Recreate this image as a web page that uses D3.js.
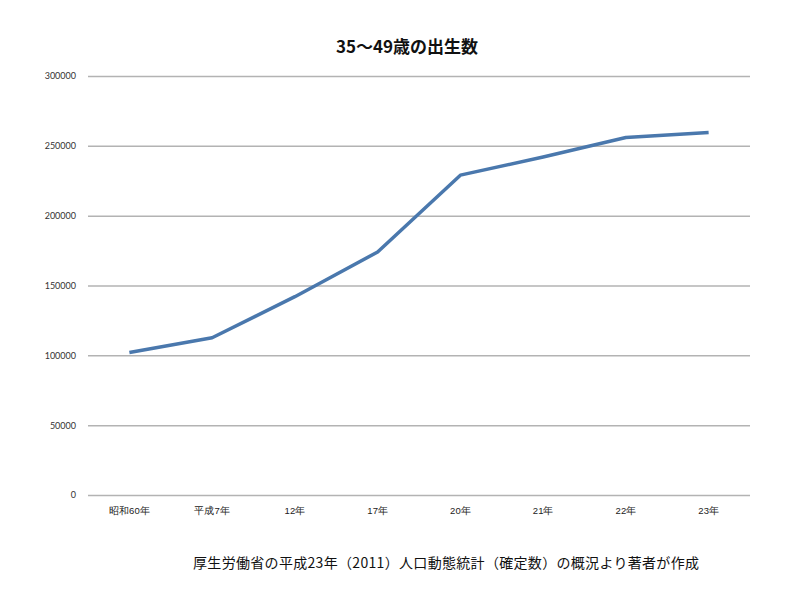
<!DOCTYPE html>
<html>
<head>
<meta charset="utf-8">
<script src="https://cdn.jsdelivr.net/npm/d3@7"></script>
<style>
  body { margin: 0; background: #fff; }
  svg { font-family: "Noto Sans CJK JP", "Noto Sans", sans-serif; }
</style>
</head>
<body>
<div id="chart"></div>
<script>
// data
var years = ["昭和60年", "平成7年", "12年", "17年", "20年", "21年", "22年", "23年"];
var births = [102000, 112600, 142000, 174000, 229000, 242000, 256000, 259500];
var yTicks = [0, 50000, 100000, 150000, 200000, 250000, 300000];

var svgWidth = 800, svgHeight = 600;
var margin = { top: 76, right: 50, bottom: 105, left: 88 };
var width = svgWidth - margin.left - margin.right;
var height = svgHeight - margin.top - margin.bottom;

var svg = d3.select("#chart").append("svg")
    .attr("width", svgWidth)
    .attr("height", svgHeight);

var chart = svg.append("g")
    .attr("transform", `translate(${margin.left}, ${margin.top})`);

var x = d3.scaleBand().domain(years).range([0, width]);
var y = d3.scaleLinear().domain([0, 300000]).range([height, 0]);

// gridlines + y labels
var leftAxis = d3.axisLeft(y).tickValues(yTicks).tickSize(-width).tickPadding(12).tickFormat(d3.format("d"));
var gy = chart.append("g").call(leftAxis);
gy.select(".domain").remove();
gy.selectAll(".tick line").attr("stroke", "#b3b3b3").attr("stroke-width", 1.5);
gy.selectAll(".tick text").attr("fill", "#333").style("font-size", "9px").style("font-family", "Lato, 'Noto Sans', sans-serif");

// x labels
var bottomAxis = d3.axisBottom(x).tickSize(0).tickPadding(12);
var gx = chart.append("g").attr("transform", `translate(0, ${height})`).call(bottomAxis);
gx.select(".domain").remove();
gx.selectAll(".tick text").attr("fill", "#222").style("font-size", "9.5px");

// line
var line = d3.line()
    .x(function(d, i) { return x(years[i]) + x.bandwidth() / 2; })
    .y(function(d) { return y(d); });

chart.append("path")
    .datum(births)
    .attr("fill", "none")
    .attr("stroke", "#4a78ad")
    .attr("stroke-width", 3.5)
    .attr("stroke-linejoin", "round")
    .attr("d", line);

// title
svg.append("text")
    .attr("x", 407).attr("y", 53)
    .attr("text-anchor", "middle")
    .style("font-size", "17px").style("font-weight", "bold")
    .attr("fill", "#111")
    .text("35〜49歳の出生数");

// source note
svg.append("text")
    .attr("x", 193).attr("y", 568)
    .style("font-size", "14px")
    .attr("textLength", 506)
    .attr("lengthAdjust", "spacing")
    .attr("fill", "#111")
    .text("厚生労働省の平成23年（2011）人口動態統計（確定数）の概況より著者が作成");
</script>
</body>
</html>
